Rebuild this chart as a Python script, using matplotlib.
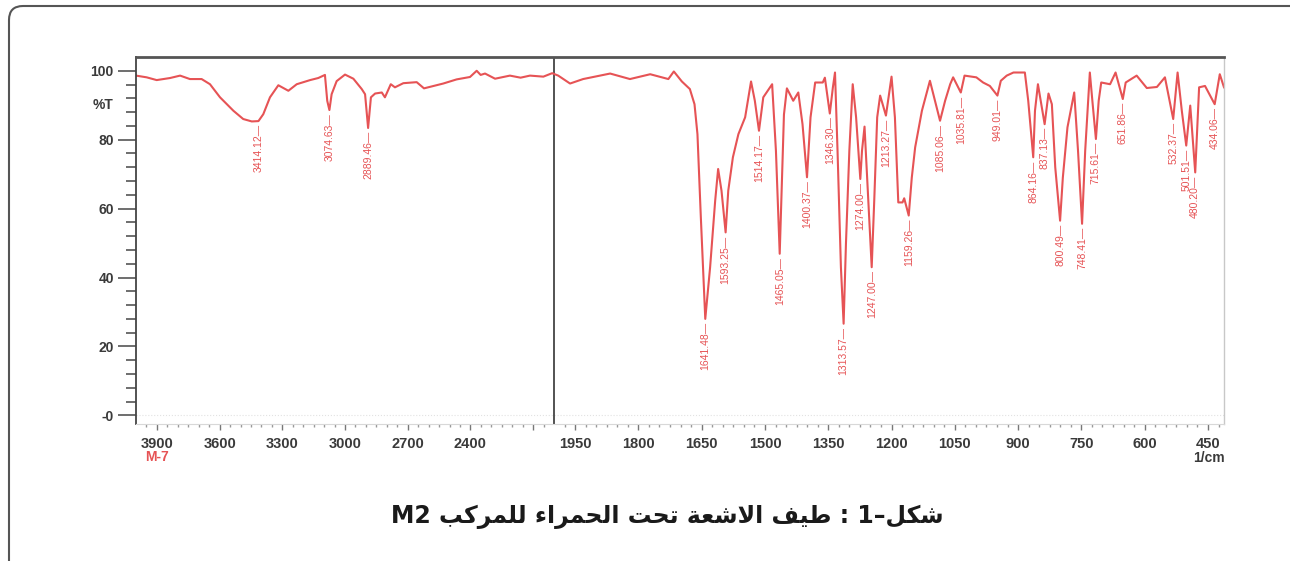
import re
import numpy as np
import matplotlib
matplotlib.use("Agg")
import matplotlib.pyplot as plt
from matplotlib.patches import FancyBboxPatch
from matplotlib.transforms import IdentityTransform

plt.rcParams['font.family'] = ['Liberation Sans', 'DejaVu Sans']

# spectrum: wavenumber (1/cm) and %T
wn = [4000, 3949, 3901, 3837, 3789, 3742, 3686, 3646, 3598, 3534, 3487, 3446,
      3414.12, 3391, 3359, 3319, 3271, 3231, 3167, 3128, 3096, 3085, 3074.63,
      3064, 3040, 3000, 2960, 2920, 2904, 2889.46, 2876, 2856, 2824, 2809,
      2781, 2761, 2721, 2657, 2622, 2577, 2530, 2466, 2402, 2370, 2351, 2330,
      2282, 2211, 2160, 2115, 2051, 2009, 1990, 1962, 1931, 1867, 1820, 1772,
      1729, 1716, 1697, 1678, 1667, 1660, 1652, 1641.48, 1630, 1618, 1611,
      1603, 1593.25, 1587, 1576, 1563, 1547, 1533, 1524, 1514.17, 1504, 1488,
      1483, 1474, 1465.05, 1460, 1455, 1448, 1433, 1421, 1411, 1400.37, 1392,
      1381, 1363, 1358, 1346.30, 1339, 1334, 1328, 1320, 1313.57, 1308, 1300,
      1292, 1284, 1274.00, 1270, 1264, 1257, 1247.00, 1241, 1234, 1227,
      1213.27, 1200, 1192, 1184, 1174, 1170, 1159.26, 1152, 1144, 1128, 1109,
      1097, 1085.06, 1073, 1061, 1054, 1035.81, 1027, 999, 983, 967, 949.01,
      941, 927, 911, 884, 876, 864.16, 860, 853, 845, 837.13, 828, 820, 812,
      800.49, 794, 783, 767, 758, 748.41, 741, 730, 724, 715.61, 709, 703,
      682, 669, 651.86, 645, 619, 595, 571, 552, 532.37, 522, 512, 501.51,
      492, 480.20, 471, 457, 434.06, 422, 412]
tr = [98.6, 98.1, 97.3, 97.9, 98.6, 97.6, 97.6, 96.1, 92.3, 88.4, 86.0, 85.3,
      85.4, 87.4, 92.3, 95.8, 94.2, 96.1, 97.3, 97.9, 98.8, 91.3, 88.6,
      93.2, 97.0, 98.9, 97.7, 94.7, 93.2, 83.4, 92.3, 93.4, 93.7, 92.3,
      96.1, 95.2, 96.4, 96.7, 94.9, 95.6, 96.3, 97.5, 98.2, 100.0, 98.8, 99.2,
      97.7, 98.6, 98.0, 98.6, 98.3, 99.3, 98.6, 96.3, 97.6, 99.2, 97.6, 99.0,
      97.6, 99.8, 96.9, 94.7, 90.3, 81.6, 57.5, 28.0, 43.0, 62.3, 71.5,
      65.2, 53.1, 65.2, 74.9, 81.6, 86.5, 96.9, 91.3, 82.6, 92.3, 95.2,
      96.1, 76.8, 46.9, 67.0, 87.3, 94.9, 91.3, 93.7, 84.5, 69.1, 86.5,
      96.6, 96.6, 98.0, 87.6, 95.2, 99.5, 76.8, 43.0, 26.6, 50.0, 76.8,
      96.1, 86.5, 68.6, 76.8, 83.8, 67.0, 43.0, 62.3, 86.5, 92.8,
      87.0, 98.3, 86.5, 61.8, 61.8, 63.0, 58.0, 69.0, 77.8, 88.4, 97.1,
      91.3, 85.5, 91.3, 96.1, 98.1, 93.7, 98.6, 98.1, 96.6, 95.6, 92.8,
      97.1, 98.6, 99.5, 99.5, 91.3, 74.9, 88.4, 96.1, 90.3, 84.5, 93.4, 90.3, 72.0,
      56.5, 69.0, 83.6, 93.7, 76.8, 55.6, 76.8, 99.5, 91.3, 80.2, 91.3, 96.6,
      96.1, 99.5, 91.8, 96.6, 98.6, 95.0, 95.3, 98.1, 86.0, 99.5, 88.4, 78.3,
      89.9, 70.5, 95.2, 95.6, 90.3, 99.0, 95.2]

peak_wn = [3414.12, 3074.63, 2889.46, 1641.48, 1593.25, 1514.17, 1465.05,
           1400.37, 1346.30, 1313.57, 1274.00, 1247.00, 1213.27, 1159.26,
           1085.06, 1035.81, 949.01, 864.16, 837.13, 800.49, 748.41, 715.61,
           651.86, 532.37, 501.51, 480.20, 434.06]

major_left = [3900, 3600, 3300, 3000, 2700, 2400, 2100]
major_right = [1950, 1800, 1650, 1500, 1350, 1200, 1050, 900, 750, 600, 450]
y_major = [0, 20, 40, 60, 80, 100]
y_labels = ['-0', '20', '40', '60', '80', '100']

caption = "شكل–1 : طيف الاشعة تحت الحمراء للمركب M2"

RED = '#e65355'

# --- small arabic shaper (matplotlib has no shaping / bidi) ---
FORMS = {
    'ا': ('\uFE8D', '\uFE8E', None, None),
    'ب': ('\uFE8F', '\uFE90', '\uFE91', '\uFE92'),
    'ة': ('\uFE93', '\uFE94', None, None),
    'ت': ('\uFE95', '\uFE96', '\uFE97', '\uFE98'),
    'ح': ('\uFEA1', '\uFEA2', '\uFEA3', '\uFEA4'),
    'ر': ('\uFEAD', '\uFEAE', None, None),
    'ش': ('\uFEB5', '\uFEB6', '\uFEB7', '\uFEB8'),
    'ط': ('\uFEC1', '\uFEC2', '\uFEC3', '\uFEC4'),
    'ع': ('\uFEC9', '\uFECA', '\uFECB', '\uFECC'),
    'ف': ('\uFED1', '\uFED2', '\uFED3', '\uFED4'),
    'ك': ('\uFED9', '\uFEDA', '\uFEDB', '\uFEDC'),
    'ل': ('\uFEDD', '\uFEDE', '\uFEDF', '\uFEE0'),
    'م': ('\uFEE1', '\uFEE2', '\uFEE3', '\uFEE4'),
    'ي': ('\uFEF1', '\uFEF2', '\uFEF3', '\uFEF4'),
    'ء': ('\uFE80', None, None, None),
}


def dual(c):
    return c in FORMS and FORMS[c][2] is not None


def shape(s):
    out = []
    i = 0
    while i < len(s):
        c = s[i]
        if c not in FORMS:
            out.append(c)
            i += 1
            continue
        prev = s[i - 1] if i > 0 else ''
        jp = dual(prev) and FORMS[c][1] is not None
        if c == 'ل' and i + 1 < len(s) and s[i + 1] == 'ا':
            out.append('\uFEFC' if jp else '\uFEFB')
            i += 2
            continue
        nxt = s[i + 1] if i + 1 < len(s) else ''
        jn = dual(c) and nxt in FORMS and FORMS[nxt][1] is not None
        iso, fin, ini, med = FORMS[c]
        if jp and jn:
            out.append(med)
        elif jp:
            out.append(fin)
        elif jn:
            out.append(ini)
        else:
            out.append(iso)
        i += 1
    runs = re.findall(r'[A-Za-z0-9]+|.', ''.join(out))
    return ''.join(runs[::-1])


# two-speed wavenumber axis, break at 2000
def fwd(w):
    w = np.asarray(w, dtype=float)
    return np.where(w >= 2000, (w - 2000) * 0.209, (w - 2000) * 0.4219)


def inv(u):
    u = np.asarray(u, dtype=float)
    return np.where(u >= 0, 2000 + u / 0.209, 2000 + u / 0.4219)


fig = plt.figure(figsize=(12.9, 5.61), dpi=100)
W, H = 1290, 561

box = FancyBboxPatch((9, -60), 1400, 561 - 6 + 60, boxstyle='round,pad=0,rounding_size=14',
                     transform=IdentityTransform(), facecolor='none', edgecolor='#555555', lw=1.5)
fig.patches.append(box)

ax = fig.add_axes([136 / W, 1 - 424 / H, (1224 - 136) / W, (424 - 57) / H])
ax.set_xscale('function', functions=(fwd, inv))
ax.set_xlim(4000, 412)
ax.set_ylim(-2.5, 104)

ax.axhline(0, color='#e2e2e2', lw=0.8, ls=':')
ax.axvline(2000, color='#444444', lw=1.3)
ax.plot(wn, tr, color=RED, lw=1.5)

# peak labels
wn_a = np.array(wn)[::-1]
tr_a = np.array(tr)[::-1]
for p in peak_wn:
    t = np.interp(p, wn_a, tr_a)
    ax.annotate(f"{p:.2f}\u2014", xy=(p, t), xytext=(0, -3), textcoords='offset pixels',
                rotation=90, ha='center', va='top', fontsize=7.5, color=RED)

# axes styling
ax.spines['left'].set_color('#444444')
ax.spines['left'].set_linewidth(1.3)
ax.spines['top'].set_color('#555555')
ax.spines['top'].set_linewidth(2)
ax.spines['right'].set_color('#c8c8c8')
ax.spines['right'].set_linewidth(1)
ax.spines['bottom'].set_color('#d8d8d8')
ax.spines['bottom'].set_linewidth(0.8)

xt = major_left + major_right
xl = [str(v) for v in major_left[:-1]] + [''] + [str(v) for v in major_right]
ax.set_xticks(xt, xl, fontweight='bold', color='#3a3a3a')
minor_x = [v for v in range(3950, 2000, -50) if v not in major_left] + \
          [v for v in range(1975, 412, -25) if v not in major_right]
ax.set_xticks(minor_x, minor=True)
ax.set_yticks(y_major, y_labels, fontweight='bold', color='#3a3a3a')
ax.set_yticks([v for v in range(0, 101, 4) if v not in y_major], minor=True)

ax.tick_params(axis='x', which='major', length=4, width=1, color='#777777', pad=5, labelsize=10.5)
ax.tick_params(axis='x', which='minor', length=2.5, width=1, color='#999999')
ax.tick_params(axis='y', which='major', length=13, width=1.2, color='#555555', pad=3, labelsize=10)
ax.tick_params(axis='y', which='minor', length=7, width=1.2, color='#555555')

ax.text(-23 / 1088, 90, '%T', transform=ax.get_yaxis_transform(), ha='right', va='center',
        fontsize=10, fontweight='bold', color='#3a3a3a')

fig.text(145 / W, 1 - 457 / H, 'M-7', ha='left', va='center', fontsize=10,
         fontweight='bold', color=RED)
fig.text(1225 / W, 1 - 458 / H, '1/cm', ha='right', va='center', fontsize=10,
         fontweight='bold', color='#3a3a3a')

fig.text(667 / W, 1 - 517 / H, shape(caption), ha='center', va='center', fontsize=17,
         fontweight='bold', family=['DejaVu Sans'], color='#1a1a1a')

fig.savefig('out.png', dpi=100)
